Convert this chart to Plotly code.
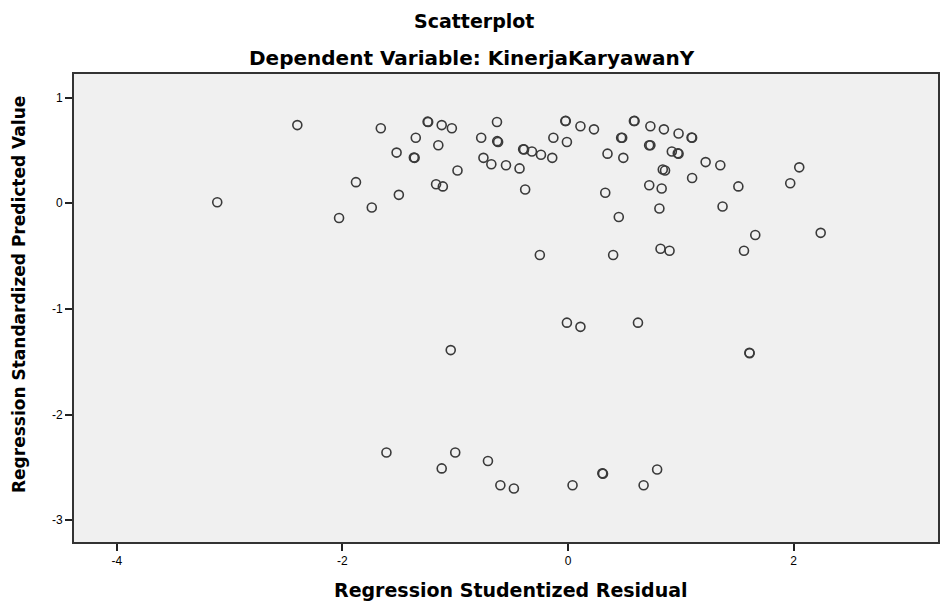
import plotly.graph_objects as go

# Regression Studentized Residual (x) and Regression Standardized Predicted Value (y)
residual = [
    -3.11, -2.40, -1.66, -1.245, -1.24, -1.12, -1.03, -1.35, -1.15, -1.52,
    -1.367, -1.36, -0.98, -1.88, -1.17, -1.11, -1.50, -1.74, -2.03,
    -0.63, -0.77, -0.628, -0.62, -0.75, -0.68, -0.55, -0.43, -0.38, -0.398, -0.39,
    -0.32, -0.24, -0.14, -0.13, -0.01, -0.024, -0.02, 0.11, 0.23,
    0.35, 0.49, 0.33, 0.45, 0.471, 0.48, 0.584, 0.59, 0.73, 0.85, 0.98,
    1.095, 1.10, 0.719, 0.73, 0.92, 0.973, 0.98, 0.84, 0.86, 0.72, 0.83, 0.81,
    1.10, 1.22, 1.35, 1.51, 1.37, 2.05, 1.97, 1.66, 2.24,
    -0.25, 0.40, 0.82, 0.90, 1.56,
    -0.01, 0.11, 0.62, 1.608, 1.61, -1.04,
    -1.61, -1.00, -1.12, -0.71, -0.60, -0.48, 0.04, 0.304, 0.31, 0.79, 0.67,
]
predicted = [
    0.01, 0.74, 0.71, 0.773, 0.77, 0.74, 0.71, 0.62, 0.55, 0.48,
    0.434, 0.43, 0.31, 0.20, 0.18, 0.16, 0.08, -0.04, -0.14,
    0.77, 0.62, 0.588, 0.58, 0.43, 0.37, 0.36, 0.33, 0.13, 0.512, 0.51,
    0.49, 0.46, 0.43, 0.62, 0.58, 0.779, 0.78, 0.73, 0.70,
    0.47, 0.43, 0.10, -0.13, 0.621, 0.62, 0.779, 0.78, 0.73, 0.70, 0.66,
    0.623, 0.62, 0.550, 0.55, 0.49, 0.473, 0.47, 0.32, 0.31, 0.17, 0.14, -0.05,
    0.24, 0.39, 0.36, 0.16, -0.03, 0.34, 0.19, -0.30, -0.28,
    -0.49, -0.49, -0.43, -0.45, -0.45,
    -1.13, -1.17, -1.13, -1.415, -1.42, -1.39,
    -2.36, -2.36, -2.51, -2.44, -2.67, -2.70, -2.67, -2.557, -2.56, -2.52, -2.67,
]

x_ticks = [-4, -2, 0, 2]
x_tick_labels = ["-4", "-2", "0", "2"]
y_ticks = [1, 0, -1, -2, -3]
y_tick_labels = ["1", "0", "-1", "-2", "-3"]

fig = go.Figure()
fig.add_trace(go.Scatter(
    x=residual, y=predicted, mode="markers",
    marker=dict(symbol="circle-open", size=9, color="#3a3a3a",
                line=dict(width=1.6, color="#3a3a3a")),
    showlegend=False, hoverinfo="x+y",
))

tick_font = "Liberation Sans, Arial, sans-serif"
title_font = "DejaVu Sans, Liberation Sans, sans-serif"

fig.update_layout(
    width=940, height=601,
    margin=dict(l=74, r=0, t=74, b=59),
    paper_bgcolor="white",
    plot_bgcolor="#f0f0f0",
    font=dict(family=tick_font, color="black", size=12),
    xaxis=dict(range=[-4.38, 3.28], tickvals=x_ticks, ticktext=x_tick_labels,
               ticks="outside", ticklen=7, tickwidth=1.5, tickcolor="#222",
               showgrid=False, zeroline=False,
               showline=True, linecolor="#333", linewidth=2, mirror=True,
               tickfont=dict(size=12, family=tick_font)),
    yaxis=dict(range=[-3.207, 1.224], tickvals=y_ticks, ticktext=y_tick_labels,
               ticks="outside", ticklen=7, tickwidth=1.5, tickcolor="#222",
               showgrid=False, zeroline=False,
               showline=True, linecolor="#333", linewidth=2, mirror=True,
               tickfont=dict(size=12, family=tick_font)),
    annotations=[
        dict(text="<b>Scatterplot</b>", xref="paper", yref="paper",
             x=0.4631, y=1.113, xanchor="center", yanchor="middle", showarrow=False,
             font=dict(size=19, family=title_font)),
        dict(text="<b>Dependent Variable: KinerjaKaryawanY</b>", xref="paper", yref="paper",
             x=0.4607, y=1.034, xanchor="center", yanchor="middle", showarrow=False,
             font=dict(size=20, family=title_font)),
        dict(text="<b>Regression Studentized Residual</b>", xref="paper", yref="paper",
             x=0.5058, y=-0.1026, xanchor="center", yanchor="middle", showarrow=False,
             font=dict(size=19, family=title_font)),
        dict(text="<b>Regression Standardized Predicted Value</b>", xref="paper", yref="paper",
             x=-0.0635, y=0.528, xanchor="center", yanchor="middle", showarrow=False,
             textangle=-90, font=dict(size=17, family=title_font)),
    ],
)

fig.write_html(
    "out.html",
    config={"displayModeBar": False},
    post_script="document.body.style.margin='0';document.body.style.overflow='hidden';",
)
